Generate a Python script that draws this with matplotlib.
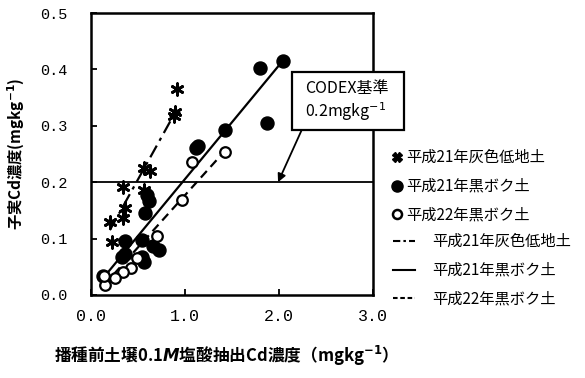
import matplotlib
matplotlib.use("Agg")
import matplotlib.pyplot as plt
from matplotlib.lines import Line2D
from matplotlib.patches import Rectangle
import numpy as np

JP = ["Noto Sans CJK JP", "DejaVu Sans"]
MONO = ["Liberation Mono", "DejaVu Sans Mono"]

# 平成21年 灰色低地土
gray21_x = [0.91, 0.89, 0.88, 0.56, 0.63, 0.34, 0.56, 0.36, 0.34, 0.20, 0.22]
gray21_y = [0.366, 0.325, 0.318, 0.225, 0.220, 0.192, 0.187, 0.154, 0.136, 0.130, 0.094]

# 平成21年 黒ボク土
black21_x = [2.04, 1.80, 1.87, 1.43, 1.14, 1.12, 0.60, 0.62, 0.57, 0.36, 0.54,
             0.33, 0.36, 0.54, 0.66, 0.72, 0.56, 0.13]
black21_y = [0.415, 0.402, 0.305, 0.293, 0.264, 0.260, 0.178, 0.166, 0.145, 0.095, 0.098,
             0.068, 0.073, 0.068, 0.086, 0.080, 0.058, 0.034]

# 平成22年 黒ボク土
black22_x = [1.43, 1.07, 0.97, 0.70, 0.49, 0.43, 0.34, 0.26, 0.15, 0.14]
black22_y = [0.254, 0.235, 0.169, 0.105, 0.065, 0.047, 0.040, 0.030, 0.018, 0.034]

# 回帰直線 (傾き, 切片, x範囲)
fit_gray21 = (0.300, 0.055, 0.20, 0.91)
fit_black21 = (0.2016, 0.004, 0.13, 2.04)
fit_black22 = (0.185, -0.008, 0.14, 1.43)

codex_limit = 0.2
x_ticks = [0.0, 1.0, 2.0, 3.0]
y_ticks = [0.0, 0.1, 0.2, 0.3, 0.4, 0.5]
series_labels = ["平成21年灰色低地土", "平成21年黒ボク土", "平成22年黒ボク土"]

fig = plt.figure(figsize=(5.85, 3.78), dpi=100)
ax = fig.add_axes([0.1556, 0.2196, 0.482, 0.746])

def trend(ax, fit, ls):
    a, b, x0, x1 = fit
    xs = np.array([x0, x1])
    ax.plot(xs, a * xs + b, color="black", lw=1.6, ls=ls, zorder=2)

trend(ax, fit_gray21, (0, (6, 2.5, 1.5, 2.5)))
trend(ax, fit_black21, "-")
trend(ax, fit_black22, (0, (4, 2.5)))

ax.axhline(codex_limit, color="black", lw=1.3, zorder=1)

ax.scatter(gray21_x, gray21_y, marker=(6, 2, 0), s=70, color="black",
           linewidths=2.0, zorder=3)
ax.scatter(black21_x, black21_y, marker="o", s=88, color="black", zorder=3)
ax.scatter(black22_x, black22_y, marker="o", s=58, facecolor="white",
           edgecolor="black", linewidths=1.6, zorder=4)

ax.set_xlim(0, 3)
ax.set_ylim(0, 0.5)
ax.set_xticks(x_ticks)
ax.set_yticks(y_ticks)
ax.set_xticklabels([f"{v:.1f}" for v in x_ticks], family=MONO, fontsize=12)
ax.set_yticklabels([f"{v:.1f}" for v in y_ticks], family=MONO, fontsize=11)
ax.tick_params(direction="in", length=4, width=1.3)
ax.tick_params(axis="y", pad=17)
ax.tick_params(axis="x", pad=10)
for sp in ax.spines.values():
    sp.set_linewidth(1.8)

ax.set_xlabel("播種前土壌0.1$\\mathbfit{M}$塩酸抽出Cd濃度（mgkg$^{\\mathbf{-1}}$）",
              family=JP, fontsize=12, fontweight="bold")
ax.xaxis.set_label_coords(0.465, -0.172)
ax.set_ylabel("子実Cd濃度(mgkg$^{\\mathbf{-1}}$)", family=JP, fontsize=11,
              fontweight="bold")
ax.yaxis.set_label_coords(-0.226, 0.5)

# CODEX基準の注記
ax.annotate("", xy=(1.99, codex_limit), xytext=(2.24, 0.292),
            arrowprops=dict(arrowstyle="-|>", color="black", lw=1.3,
                            mutation_scale=12, shrinkA=0, shrinkB=0),
            annotation_clip=False, zorder=5)
ax.add_patch(Rectangle((2.14, 0.293), 1.19, 0.102, fc="white", ec="black",
                       lw=1.6, zorder=6, clip_on=False))
ax.text(2.28, 0.366, "CODEX基準", family=JP, fontsize=11.5, va="center",
        ha="left", zorder=7, clip_on=False)
ax.text(2.28, 0.325, "0.2mgkg$^{-1}$", family=JP, fontsize=11.5, va="center",
        ha="left", zorder=7, clip_on=False)

marker_handles = [
    Line2D([], [], ls="none", marker="X", ms=7, color="black"),
    Line2D([], [], ls="none", marker="o", ms=8, color="black"),
    Line2D([], [], ls="none", marker="o", ms=6.5, mfc="white", mec="black", mew=1.8),
]
line_handles = [
    Line2D([], [], color="black", lw=1.5, ls=(0, (3.5, 1.5, 1.2, 1.5))),
    Line2D([], [], color="black", lw=1.5, ls="-"),
    Line2D([], [], color="black", lw=1.5, ls=(0, (2.2, 1.3))),
]

leg_prop = {"family": JP, "size": 11}
fig.legend(marker_handles, series_labels, loc="upper left",
           bbox_to_anchor=(392 / 585, 1 - 149 / 378), frameon=False,
           handlelength=0.6, handletextpad=0.36, labelspacing=0.78,
           borderpad=0, borderaxespad=0, prop=leg_prop)
fig.legend(line_handles, series_labels, loc="upper left",
           bbox_to_anchor=(393 / 585, 1 - 233 / 378), frameon=False,
           handlelength=1.44, handletextpad=1.1, labelspacing=0.78,
           borderpad=0, borderaxespad=0, prop=leg_prop)

fig.savefig("out.png", dpi=100)
